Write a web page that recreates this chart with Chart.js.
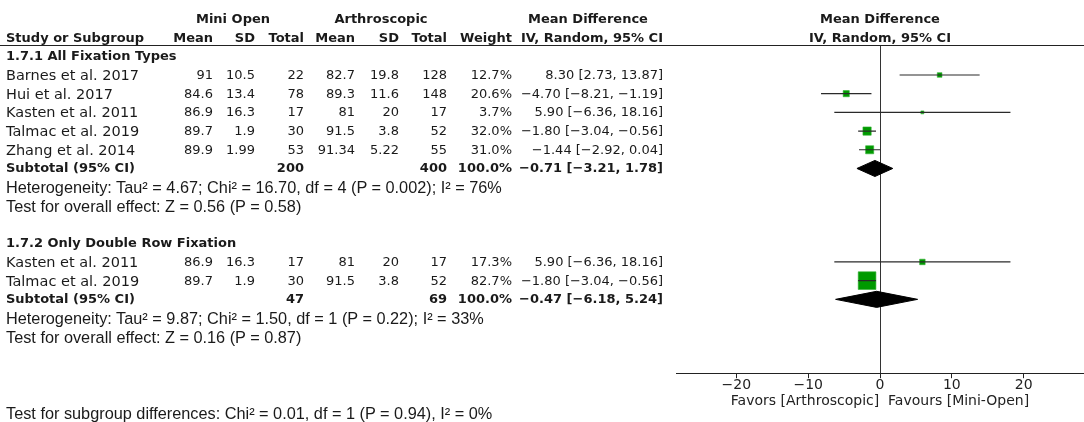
<!DOCTYPE html>
<html>
<head>
<meta charset="utf-8">
<script src="https://cdn.jsdelivr.net/npm/chart.js@4.4.1/dist/chart.umd.min.js"></script>
<style>
    html, body { margin: 0; padding: 0; background: #fff; }
    #wrap { position: relative; width: 1084px; height: 422px; overflow: hidden; }
    #forest { position: absolute; left: 0; top: 0; }
    .t { position: absolute; white-space: pre; font-family: "DejaVu Sans", sans-serif; font-size: 13px; line-height: 16px; color: #1a1a1a; }
    .b { font-weight: bold; }
    .lab { font-size: 14.5px; }
    .h { font-family: "Liberation Sans", Arial, sans-serif; font-size: 16.3px; }
    #rule { position: absolute; left: 0; top: 45px; width: 1084px; height: 1px; background: #222; }
</style>
</head>
<body>
<div id="wrap">
    <canvas id="forest" width="1084" height="422"></canvas>
    <div id="rule"></div>
</div>
<script>
const groupTitles = ["1.7.1 All Fixation Types", "1.7.2 Only Double Row Fixation"];
const studies = ["Barnes et al. 2017", "Hui et al. 2017", "Kasten et al. 2011", "Talmac et al. 2019", "Zhang et al. 2014", "Kasten et al. 2011", "Talmac et al. 2019"];
const studyGroup = [0, 0, 0, 0, 0, 1, 1];
const miniMean = [91, 84.6, 86.9, 89.7, 89.9, 86.9, 89.7];
const miniSD = [10.5, 13.4, 16.3, 1.9, 1.99, 16.3, 1.9];
const miniTotal = [22, 78, 17, 30, 53, 17, 30];
const arthMean = [82.7, 89.3, 81, 91.5, 91.34, 81, 91.5];
const arthSD = [19.8, 11.6, 20, 3.8, 5.22, 20, 3.8];
const arthTotal = [128, 148, 17, 52, 55, 17, 52];
const weights = [12.7, 20.6, 3.7, 32.0, 31.0, 17.3, 82.7];
const meanDiff = [8.30, -4.70, 5.90, -1.80, -1.44, 5.90, -1.80];
const ciLow = [2.73, -8.21, -6.36, -3.04, -2.92, -6.36, -3.04];
const ciHigh = [13.87, -1.19, 18.16, -0.56, 0.04, 18.16, -0.56];
const subMiniTotal = [200, 47];
const subArthTotal = [400, 69];
const subMeanDiff = [-0.71, -0.47];
const subLow = [-3.21, -6.18];
const subHigh = [1.78, 5.24];
const heterogeneity = [
    "Heterogeneity: Tau² = 4.67; Chi² = 16.70, df = 4 (P = 0.002); I² = 76%",
    "Heterogeneity: Tau² = 9.87; Chi² = 1.50, df = 1 (P = 0.22); I² = 33%"
];
const overallEffect = ["Test for overall effect: Z = 0.56 (P = 0.58)", "Test for overall effect: Z = 0.16 (P = 0.87)"];
const subgroupTest = "Test for subgroup differences: Chi² = 0.01, df = 1 (P = 0.94), I² = 0%";
const xTicks = [-20, -10, 0, 10, 20];

// row layout: title, studies, subtotal, heterogeneity, overall effect, blank
const rows = { title: [], study: [], subtotal: [], het: [], test: [] };
let r = 0;
groupTitles.forEach((t, g) => {
    rows.title.push(r++);
    studies.forEach((s, i) => { if (studyGroup[i] === g) rows.study[i] = r++; });
    rows.subtotal.push(r++);
    rows.het.push(r++);
    rows.test.push(r++);
    r++;
});

const fmt = (v, d) => (d == null ? String(v) : v.toFixed(d)).replace("-", "\u2212");
const ciText = (m, lo, hi) => `${fmt(m, 2)} [${fmt(lo, 2)}, ${fmt(hi, 2)}]`;

const datasets = [];
studies.forEach((s, i) => {
    const y = rows.study[i];
    datasets.push({
        type: "line",
        data: [{ x: ciLow[i], y: y }, { x: ciHigh[i], y: y }],
        borderColor: "#2a2a2a",
        borderWidth: 1.2,
        pointRadius: 0,
        fill: false
    });
});
// box side grows with the study weight
datasets.push({
    type: "scatter",
    data: meanDiff.map((m, i) => ({ x: m, y: rows.study[i] })),
    pointStyle: "rect",
    pointRadius: weights.map(w => (2.3 + 0.186 * w) / Math.SQRT2),
    backgroundColor: "#009a00",
    borderColor: "#30b030",
    borderWidth: 0.6
});
subMeanDiff.forEach((m, g) => {
    const y = rows.subtotal[g];
    datasets.push({
        type: "line",
        data: [
            { x: subLow[g], y: y },
            { x: m, y: y - 0.43 },
            { x: subHigh[g], y: y },
            { x: m, y: y + 0.43 },
            { x: subLow[g], y: y }
        ],
        borderColor: "#000",
        borderWidth: 1,
        backgroundColor: "#000",
        pointRadius: 0,
        tension: 0,
        fill: "shape"
    });
});

const chart = new Chart(document.getElementById("forest"), {
    type: "scatter",
    data: { datasets: datasets },
    options: {
        responsive: false,
        animation: false,
        devicePixelRatio: 1,
        layout: { autoPadding: false, padding: { left: 676, top: 46, right: 0, bottom: 12 } },
        plugins: { legend: { display: false }, tooltip: { enabled: false } },
        scales: {
            x: {
                type: "linear",
                min: -28.4,
                max: 28.4,
                afterBuildTicks: (scale) => { scale.ticks = xTicks.map(v => ({ value: v })); },
                ticks: {
                    callback: (v) => fmt(v),
                    font: { family: "DejaVu Sans", size: 14, lineHeight: 1 },
                    color: "#222",
                    padding: 0,
                    maxRotation: 0
                },
                grid: {
                    color: (c) => (c.tick && c.tick.value === 0 ? "#333" : "rgba(0,0,0,0)"),
                    tickColor: "#222",
                    tickLength: 5,
                    lineWidth: 1
                },
                border: { color: "#222", width: 1 },
                title: {
                    display: true,
                    text: "Favors [Arthroscopic]  Favours [Mini-Open]",
                    font: { family: "DejaVu Sans", size: 14 },
                    color: "#222",
                    padding: { top: 1, bottom: 0 }
                }
            },
            y: { type: "linear", display: false, reverse: true, min: -0.55, max: 16.95 }
        }
    }
});

// table text, placed on the chart's own row scale
const wrap = document.getElementById("wrap");
const rowY = (v) => chart.scales.y.getPixelForValue(v);

function addText(text, x, row, align, cls) {
    const el = document.createElement("div");
    el.className = "t " + (cls || "");
    el.textContent = text;
    el.style.top = (rowY(row) - 8) + "px";
    if (align === "right") {
        el.style.right = (1084 - x) + "px";
    } else if (align === "center") {
        el.style.left = (x - 200) + "px";
        el.style.width = "400px";
        el.style.textAlign = "center";
    } else {
        el.style.left = x + "px";
    }
    wrap.appendChild(el);
}

const col = { miniMean: 213, miniSD: 255, miniTotal: 304, arthMean: 355, arthSD: 399, arthTotal: 447, weight: 512, ci: 663 };
const plotMid = (chart.chartArea.left + chart.chartArea.right) / 2;

addText("Mini Open", 233, -2, "center", "b");
addText("Arthroscopic", 381, -2, "center", "b");
addText("Mean Difference", 588, -2, "center", "b");
addText("Mean Difference", plotMid, -2, "center", "b");
addText("Study or Subgroup", 6, -1, "left", "b");
addText("Mean", col.miniMean, -1, "right", "b");
addText("SD", col.miniSD, -1, "right", "b");
addText("Total", col.miniTotal, -1, "right", "b");
addText("Mean", col.arthMean, -1, "right", "b");
addText("SD", col.arthSD, -1, "right", "b");
addText("Total", col.arthTotal, -1, "right", "b");
addText("Weight", col.weight, -1, "right", "b");
addText("IV, Random, 95% CI", col.ci, -1, "right", "b");
addText("IV, Random, 95% CI", plotMid, -1, "center", "b");

studies.forEach((s, i) => {
    const y = rows.study[i];
    addText(s, 6, y, "left", "lab");
    addText(fmt(miniMean[i]), col.miniMean, y, "right");
    addText(fmt(miniSD[i]), col.miniSD, y, "right");
    addText(fmt(miniTotal[i]), col.miniTotal, y, "right");
    addText(fmt(arthMean[i]), col.arthMean, y, "right");
    addText(fmt(arthSD[i]), col.arthSD, y, "right");
    addText(fmt(arthTotal[i]), col.arthTotal, y, "right");
    addText(weights[i].toFixed(1) + "%", col.weight, y, "right");
    addText(ciText(meanDiff[i], ciLow[i], ciHigh[i]), col.ci, y, "right");
});

groupTitles.forEach((t, g) => {
    addText(t, 6, rows.title[g], "left", "b");
    const y = rows.subtotal[g];
    addText("Subtotal (95% CI)", 6, y, "left", "b");
    addText(fmt(subMiniTotal[g]), col.miniTotal, y, "right", "b");
    addText(fmt(subArthTotal[g]), col.arthTotal, y, "right", "b");
    addText("100.0%", col.weight, y, "right", "b");
    addText(ciText(subMeanDiff[g], subLow[g], subHigh[g]), col.ci, y, "right", "b");
    addText(heterogeneity[g], 6, rows.het[g], "left", "h");
    addText(overallEffect[g], 6, rows.test[g], "left", "h");
});
addText(subgroupTest, 6, 19.1, "left", "h");
</script>
</body>
</html>
